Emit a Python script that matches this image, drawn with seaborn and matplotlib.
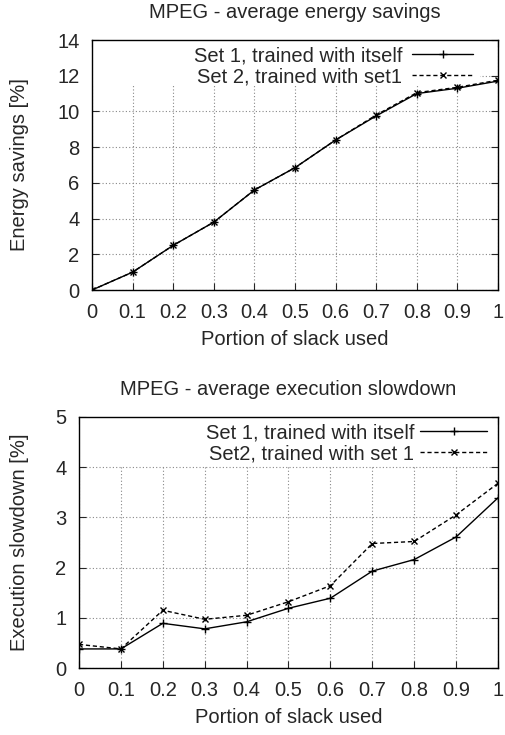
import matplotlib
matplotlib.use("Agg")
import matplotlib.pyplot as plt
import seaborn as sns
import pandas as pd

slack = [0.0, 0.1, 0.2, 0.3, 0.4, 0.5, 0.6, 0.7, 0.8, 0.9, 1.0]

energy_set1 = [0.0, 1.0, 2.5, 3.8, 5.6, 6.85, 8.4, 9.75, 11.0, 11.3, 11.7]
energy_set2 = [0.0, 1.0, 2.5, 3.8, 5.6, 6.85, 8.4, 9.8, 11.05, 11.35, 11.75]

slow_set1 = [0.38, 0.38, 0.89, 0.78, 0.92, 1.19, 1.39, 1.93, 2.16, 2.61, 3.39]
slow_set2 = [0.47, 0.38, 1.15, 0.97, 1.05, 1.32, 1.64, 2.48, 2.52, 3.05, 3.68]

top_labels = ["Set 1, trained with itself", "Set 2, trained with set1"]
bot_labels = ["Set 1, trained with itself", "Set2, trained with set 1"]

x_ticks = [0, 0.1, 0.2, 0.3, 0.4, 0.5, 0.6, 0.7, 0.8, 0.9, 1]
x_ticklabels = ["0", "0.1", "0.2", "0.3", "0.4", "0.5", "0.6", "0.7", "0.8", "0.9", "1"]

sns.set_style("ticks")
plt.rcParams['font.family'] = ['Liberation Sans', 'DejaVu Sans']
FS = 14.5
plt.rcParams['font.size'] = FS

W, H = 506, 735
fig = plt.figure(figsize=(W / 100, H / 100), dpi=100)
ax1 = fig.add_axes([92 / W, 1 - 290 / H, (498 - 92) / W, 250 / H])
ax2 = fig.add_axes([79 / W, 1 - 668 / H, (498 - 79) / W, 251 / H])


def draw(ax, y1, y2, labels, ymax, yticks, title, ylabel, ylab_x,
         mask_lo, mask_xmax, leg_x, handlelen, textpad):
    df = pd.DataFrame({
        "x": slack * 2,
        "y": list(y1) + list(y2),
        "series": [labels[0]] * len(slack) + [labels[1]] * len(slack),
    })
    sns.lineplot(data=df, x="x", y="y", hue="series", style="series",
                 palette=["black", "black"], dashes=[(None, None), (3, 2)],
                 markers=["+", "x"], markersize=6, markeredgewidth=1.0,
                 linewidth=1.0, ax=ax, legend=True, zorder=3)
    for ln in ax.lines:
        ln.set_markeredgecolor("black")
        if ln.get_marker() == "x":
            ln.set_markersize(5)
    ax.set_xlim(0, 1)
    ax.set_ylim(0, ymax)
    ax.set_xticks(x_ticks)
    ax.set_xticklabels(x_ticklabels)
    ax.set_yticks(yticks)
    ax.set_axisbelow(True)
    ax.grid(True, color="#888888", linestyle=(0, (1, 2)), linewidth=0.8)
    # opaque key area (as in the original gnuplot output)
    ax.axhspan(mask_lo, ymax, xmin=0, xmax=mask_xmax, facecolor="white",
               edgecolor="none", zorder=1)
    ax.tick_params(direction="in", top=True, right=True, length=5, width=0.8,
                   labelsize=FS, pad=9)
    for s in ax.spines.values():
        s.set_linewidth(1.0)
        s.set_color("black")
        s.set_zorder(4)
    ax.set_title(title, fontsize=FS, pad=16)
    ax.set_xlabel("Portion of slack used", fontsize=FS, labelpad=6)
    ax.set_ylabel(ylabel, fontsize=FS)
    ax.yaxis.set_label_coords(ylab_x, 0.5)
    leg = ax.legend(loc="upper right", bbox_to_anchor=(leg_x, 1.0),
                    frameon=False, markerfirst=False,
                    handlelength=handlelen, fontsize=FS, borderaxespad=0.0,
                    borderpad=0.3, labelspacing=0.1, handletextpad=textpad)
    for h in leg.legend_handles:
        h.set_markeredgecolor("black")
    return leg


draw(ax1, energy_set1, energy_set2, top_labels, 14, [0, 2, 4, 6, 8, 10, 12, 14],
     "MPEG - average energy savings", "Energy savings [%]", -0.155,
     11.45, 0.955, 0.953, 3.0, 0.5)
draw(ax2, slow_set1, slow_set2, bot_labels, 5, [0, 1, 2, 3, 4, 5],
     "MPEG - average execution slowdown", "Execution slowdown [%]", -0.12,
     4.03, 0.985, 0.988, 3.3, 0.3)

fig.savefig("out.png", dpi=100)
